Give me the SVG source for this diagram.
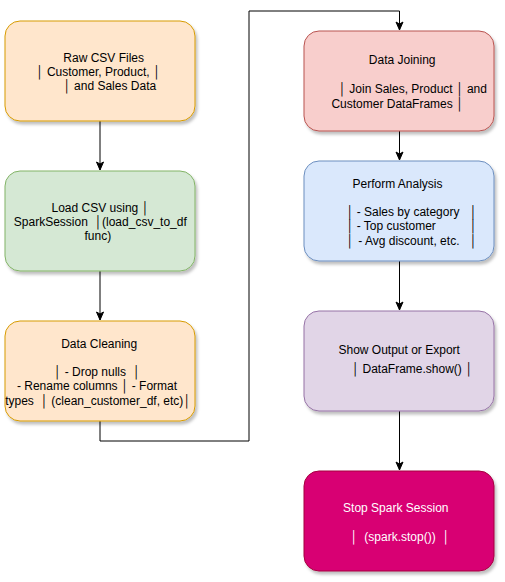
<svg xmlns="http://www.w3.org/2000/svg" width="505" height="582" viewBox="0 0 505 582">
<style>
.box{stroke-width:1;filter:url(#sh)}
.t{font-family:"Liberation Sans",Arial,sans-serif;font-size:12px;fill:#000;text-anchor:middle;white-space:pre}
.w{fill:#fff}
.s{text-anchor:start}
.edge{fill:none;stroke:#000;stroke-width:1;marker-end:url(#arr)}
</style>
<defs>
<filter id="sh" x="-10%" y="-10%" width="130%" height="130%">
<feDropShadow dx="2" dy="3" stdDeviation="1.5" flood-color="#000" flood-opacity="0.25"/>
</filter>
<marker id="arr" markerUnits="userSpaceOnUse" markerWidth="10" markerHeight="10" viewBox="0 0 10 10" refX="9" refY="5" orient="auto">
<path d="M1,1.5 L9,5 L1,8.5 L3,5 z" fill="#000" stroke="#000" stroke-width="1"/>
</marker>
</defs>
<g id="connectors">
<path class="edge" d="M100,121 V170"/>
<path class="edge" d="M100,271 V320"/>
<path class="edge" d="M100,421 V441 H249 V11 H399.5 V30"/>
<path class="edge" d="M399.5,131 V160"/>
<path class="edge" d="M399.5,261 V310"/>
<path class="edge" d="M399.5,411 V470"/>
</g>
<g id="raw-csv">
<rect class="box" x="5" y="21" width="190" height="100" rx="15" fill="#ffe6cc" stroke="#d79b00"/>
<text class="t" x="103.7" y="61.5">Raw CSV Files</text>
<text class="t" x="98.3" y="75.5">│ Customer, Product, │</text>
<text class="t" x="109.7" y="90">│ and Sales Data</text>
</g>
<g id="load-csv">
<rect class="box" x="5" y="171" width="190" height="100" rx="15" fill="#d5e8d4" stroke="#82b366"/>
<text class="t" x="100.3" y="212">Load CSV using │</text>
<text class="t" x="100.3" y="226">SparkSession  │(load_csv_to_df</text>
<text class="t" x="97.8" y="240">func)</text>
</g>
<g id="data-cleaning">
<rect class="box" x="5" y="321" width="190" height="100" rx="15" fill="#ffe6cc" stroke="#d79b00"/>
<text class="t" x="99.2" y="347.5">Data Cleaning</text>
<text class="t" x="97" y="376">│ - Drop nulls  │</text>
<text class="t" x="97" y="390">- Rename columns │ - Format</text>
<text class="t" x="98" y="404.5">types  │ (clean_customer_df, etc)│</text>
</g>
<g id="data-joining">
<rect class="box" x="304" y="31" width="190" height="100" rx="15" fill="#f8cecc" stroke="#b85450"/>
<text class="t" x="402.2" y="64">Data Joining</text>
<text class="t" x="412.7" y="93">│ Join Sales, Product │ and</text>
<text class="t" x="397.5" y="107.5">Customer DataFrames │</text>
</g>
<g id="perform-analysis">
<rect class="box" x="304" y="161" width="190" height="100" rx="15" fill="#dae8fc" stroke="#6c8ebf"/>
<text class="t" x="397.5" y="187.5">Perform Analysis</text>
<text class="t s" x="356.7" y="216">- Sales by category</text>
<text class="t s" x="356.7" y="230">- Top customer</text>
<text class="t s" x="358.3" y="244.5">- Avg discount, etc.</text>
<text class="t" x="350" y="216">│</text>
<text class="t" x="350" y="230">│</text>
<text class="t" x="350" y="244.5">│</text>
<text class="t" x="473.3" y="216">│</text>
<text class="t" x="473.3" y="230">│</text>
<text class="t" x="473.3" y="244.5">│</text>
</g>
<g id="show-output">
<rect class="box" x="304" y="311" width="190" height="100" rx="15" fill="#e1d5e7" stroke="#9673a6"/>
<text class="t" x="399.2" y="354">Show Output or Export</text>
<text class="t" x="412.2" y="372.5">│ DataFrame.show() │</text>
</g>
<g id="stop-spark">
<rect class="box" x="304" y="471" width="190" height="100" rx="15" fill="#d80073" stroke="#a50040"/>
<text class="t w" x="395.8" y="511.5">Stop Spark Session</text>
<text class="t w" x="400" y="541">│  (spark.stop())  │</text>
</g>
</svg>
